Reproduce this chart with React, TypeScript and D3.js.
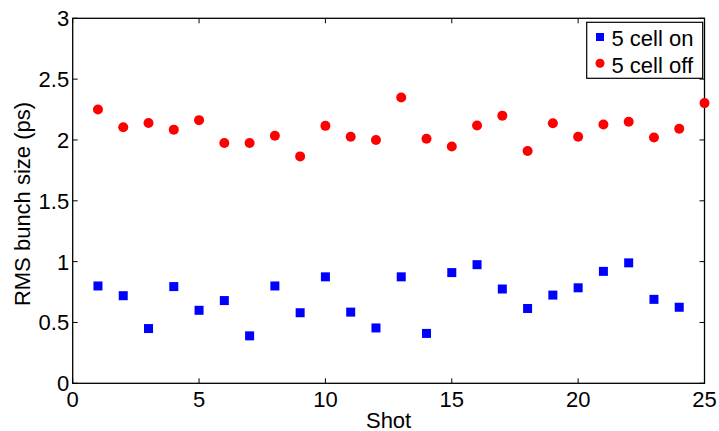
import React from "react";
import * as d3 from "d3";

const shotsOn = [1,2,3,4,5,6,7,8,9,10,11,12,13,14,15,16,17,18,19,20,21,22,23,24];
const valuesOn = [0.80,0.72,0.45,0.795,0.60,0.68,0.39,0.80,0.58,0.875,0.585,0.455,0.875,0.41,0.91,0.975,0.775,0.615,0.725,0.785,0.92,0.99,0.69,0.625];
const shotsOff = [1,2,3,4,5,6,7,8,9,10,11,12,13,14,15,16,17,18,19,20,21,22,23,24,25];
const valuesOff = [2.25,2.105,2.14,2.085,2.163,1.975,1.975,2.034,1.865,2.116,2.026,2.0,2.349,2.01,1.947,2.119,2.20,1.91,2.138,2.026,2.127,2.149,2.021,2.092,2.303];
const xTicks = [0,5,10,15,20,25];
const yTicks = [0,0.5,1,1.5,2,2.5,3];
const yTickLabels = ["0","0.5","1","1.5","2","2.5","3"];
const legendLabels = ["5 cell on","5 cell off"];

const W = 719, H = 431;
const L = 72.7, R = 704.5, T = 18.3, B = 383.3;
const FONT = "'Liberation Sans', Arial, Helvetica, sans-serif";

export default function App() {
  const x = d3.scaleLinear().domain([0, 25]).range([L, R]);
  const y = d3.scaleLinear().domain([0, 3]).range([B, T]);
  const tl = 5;
  const fs = 22;
  return (
    <svg width={W} height={H} style={{ position: "absolute", left: 0, top: 0, background: "#fff" }}
      fontFamily={FONT}>
      <rect x={0} y={0} width={W} height={H} fill="#fff" />
      {xTicks.map((t) => (
        <g key={"xt" + t}>
          <line x1={x(t)} x2={x(t)} y1={B} y2={B - tl} stroke="#000" strokeWidth={1} />
          <line x1={x(t)} x2={x(t)} y1={T} y2={T + tl} stroke="#000" strokeWidth={1} />
          <text x={x(t)} y={B + 23.5} fontSize={fs} textAnchor="middle" fill="#000">{t}</text>
        </g>
      ))}
      {yTicks.map((t, i) => (
        <g key={"yt" + t}>
          <line x1={L} x2={L + tl} y1={y(t)} y2={y(t)} stroke="#000" strokeWidth={1} />
          <line x1={R} x2={R - tl} y1={y(t)} y2={y(t)} stroke="#000" strokeWidth={1} />
          <text x={L - 3.5} y={y(t) + 8} fontSize={fs} textAnchor="end" fill="#000">{yTickLabels[i]}</text>
        </g>
      ))}
      <rect x={L} y={T} width={R - L} height={B - T} fill="none" stroke="#000" strokeWidth={1.3} />
      {shotsOn.map((s, i) => (
        <rect key={"on" + i} x={x(s) - 4.5} y={y(valuesOn[i]) - 4.5} width={9} height={9} fill="#0000ff" />
      ))}
      {shotsOff.map((s, i) => (
        <circle key={"off" + i} cx={x(s)} cy={y(valuesOff[i])} r={5} fill="#ff0000" />
      ))}
      <text x={(L + R) / 2} y={427.5} fontSize={fs} textAnchor="middle" fill="#000">Shot</text>
      <text transform={`translate(29.5,204) rotate(-90)`} fontSize={fs} textAnchor="middle" fill="#000">RMS bunch size (ps)</text>
      <rect x={586.7} y={22.3} width={116} height={56} fill="#fff" stroke="#000" strokeWidth={1.2} />
      <rect x={596} y={33} width={8} height={8} fill="#0000ff" />
      <circle cx={600} cy={63.3} r={4.5} fill="#ff0000" />
      <text x={611.5} y={46} fontSize={fs} fill="#000">{legendLabels[0]}</text>
      <text x={611.5} y={73.3} fontSize={fs} fill="#000">{legendLabels[1]}</text>
    </svg>
  );
}
